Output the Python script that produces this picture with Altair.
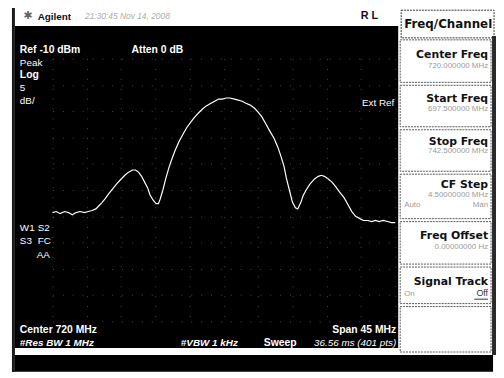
import altair as alt
import pandas as pd

# ---- trace data ----
freq_mhz = [697.5, 698.0, 698.5, 699.1, 699.6, 700.1, 700.6, 701.1, 701.7, 702.2,
            702.7, 703.2, 703.6, 704.0, 704.4, 704.9, 705.4, 705.9, 706.4, 707.0,
            707.5, 708.0, 708.4, 708.8, 709.2, 709.6, 710.0, 710.3, 710.7, 711.1,
            711.4, 711.6, 712.0, 712.4, 712.8, 713.2, 713.6, 714.1, 714.6, 715.1,
            715.7, 716.2, 716.7, 717.2, 717.7, 718.3, 718.8, 719.3, 719.8, 720.3,
            720.8, 721.4, 721.9, 722.4, 722.9, 723.4, 724.0, 724.5, 725.0, 725.5,
            726.0, 726.6, 727.1, 727.5, 727.9, 728.2, 728.6, 729.0, 729.4, 729.7,
            730.1, 730.4, 730.8, 731.3, 731.9, 732.4, 732.8, 733.2, 733.7, 734.2,
            734.7, 735.2, 735.8, 736.3, 736.8, 737.3, 737.8, 738.3, 738.9, 739.4,
            739.9, 740.4, 740.9, 741.5, 742.0, 742.5]
level_dbm = [-39.3, -39.1, -39.5, -39.1, -39.3, -39.7, -39.3, -39.1, -39.3, -39.1,
             -38.9, -38.6, -38.0, -37.4, -36.7, -35.7, -34.8, -33.9, -33.1, -32.2,
             -31.6, -31.2, -31.2, -31.6, -32.4, -33.5, -34.6, -35.9, -36.9, -37.6,
             -37.6, -36.9, -35.0, -32.7, -30.7, -29.0, -27.5, -25.8, -24.5, -23.2,
             -22.0, -21.1, -20.3, -19.6, -19.0, -18.5, -18.1, -17.7, -17.7, -17.5,
             -17.5, -17.7, -17.9, -18.1, -18.5, -18.8, -19.4, -20.2, -21.1, -22.4,
             -23.7, -25.2, -26.9, -28.6, -30.5, -32.7, -35.0, -37.3, -38.4, -38.6,
             -37.4, -36.1, -35.0, -33.9, -32.9, -32.4, -32.2, -32.4, -32.9, -33.5,
             -34.4, -35.4, -36.5, -37.8, -39.1, -40.0, -40.4, -40.8, -40.8, -41.0,
             -40.8, -41.0, -40.8, -41.0, -41.2, -41.2]

x_grid = [697.5, 702.0, 706.5, 711.0, 715.5, 720.0, 724.5, 729.0, 733.5, 738.0, 742.5]
y_grid = [-60, -55, -50, -45, -40, -35, -30, -25, -20, -15, -10]

softkey_labels = ["Center Freq", "Start Freq", "Stop Freq", "CF Step", "Freq Offset", "Signal Track"]
softkey_values = ["720.000000 MHz", "697.500000 MHz", "742.500000 MHz", "4.50000000 MHz", "0.00000000 Hz", ""]

# ---- layout helpers (page pixel -> plot-relative pixel) ----
OX, OY = 53, 57


def P(px):
    return px - OX


def Q(py):
    return py - OY


one = pd.DataFrame({"k": [0]})


def box(x1, y1, x2, y2, fill=None, stroke=None, sw=1.0, dash=None):
    kw = {}
    if fill:
        kw["fill"] = fill
    else:
        kw["fillOpacity"] = 0
        kw["fill"] = "white"
    if stroke:
        kw["stroke"] = stroke
        kw["strokeWidth"] = sw
    if dash:
        kw["strokeDash"] = dash
    return alt.Chart(one).mark_rect(**kw).encode(
        x=alt.value(P(x1)), x2=alt.value(P(x2)), y=alt.value(Q(y1)), y2=alt.value(Q(y2)))


def txt(s, px, py, size=10.5, weight="bold", align="left", color="white",
        font="Liberation Sans", style="normal"):
    return alt.Chart(one).mark_text(
        text=s, fontSize=size, fontWeight=weight, align=align, baseline="middle",
        color=color, font=font, fontStyle=style).encode(
        x=alt.value(P(px)), y=alt.value(Q(py)))


layers = []
# frame / screen backgrounds
layers.append(box(12, 0, 15, 380, fill="#1a1a1a"))
layers.append(box(15, 24, 403, 350, fill="black"))
layers.append(box(15, 357, 499, 374, fill="black"))
layers.append(box(406, 8, 500, 36, stroke="#333", sw=1, dash=[2, 1]))
layers.append(box(498, 34, 502, 357, fill="#2a2a2a"))

# softkey boxes
tops = [38, 84, 129, 174, 222, 268, 308]
bots = [81, 126, 171, 219, 265, 305, 354]
for t, b in zip(tops, bots):
    layers.append(box(405, t, 497, b, stroke="#555", sw=1, dash=[2, 1]))

# trace with graticule
x_scale = alt.Scale(domain=[697.5, 742.5], nice=False, zero=False)
y_scale = alt.Scale(domain=[-60, -10], nice=False, zero=False)
grid_axis = dict(grid=True, labels=False, ticks=False, domain=False, title=None,
                 gridColor="#8a8a8a", gridDash=[1, 9], gridWidth=1, gridOpacity=0.55,
                 zindex=1)
line = alt.Chart(pd.DataFrame({"f": freq_mhz, "dbm": level_dbm})).mark_line(
    color="white", strokeWidth=1.2).encode(
    x=alt.X("f:Q", scale=x_scale, axis=alt.Axis(values=x_grid, **grid_axis)),
    y=alt.Y("dbm:Q", scale=y_scale, axis=alt.Axis(values=y_grid, **grid_axis)))
layers.append(line)

# header
layers.append(txt("\u2731", 28, 14, size=11, weight="normal", align="center", color="#666",
                  font="DejaVu Sans"))
layers.append(txt("Agilent", 38, 15, size=10, color="#111"))
layers.append(txt("21:30:45  Nov 14, 2008", 86, 14, size=8.5, weight="normal", color="#aaa",
                  style="italic"))
layers.append(txt("R L", 365, 14, size=11, color="#111"))

# screen annotations
layers.append(txt("Ref -10 dBm", 20, 48))
layers.append(txt("Atten 0 dB", 133, 48))
layers.append(txt("Peak", 20, 61, size=10, weight="normal"))
layers.append(txt("Log", 20, 74))
layers.append(txt("5", 20, 87, size=10, weight="normal"))
layers.append(txt("dB/", 20, 100, size=10, weight="normal"))
layers.append(txt("Ext Ref", 399, 102, size=10, weight="normal", align="right"))
layers.append(txt("W1", 20, 228, size=10, weight="normal"))
layers.append(txt("S2", 38, 228, size=10, weight="normal"))
layers.append(txt("S3", 20, 242, size=10, weight="normal"))
layers.append(txt("FC", 38, 242, size=10, weight="normal"))
layers.append(txt("AA", 37, 256, size=10, weight="normal"))
layers.append(txt("Center 720 MHz", 20, 332))
layers.append(txt("#Res BW 1 MHz", 20, 345, size=10, style="italic"))
layers.append(txt("#VBW 1 kHz", 183, 345, size=10, style="italic"))
layers.append(txt("Span 45 MHz", 401, 332, align="right"))
layers.append(txt("Sweep", 267, 345))
layers.append(txt("36.56 ms (401 pts)", 401, 345, size=10, weight="normal", align="right",
                  style="italic"))

# softkeys
layers.append(txt("Freq/Channel", 409, 22, size=12, color="#111", font="DejaVu Sans"))
label_y = [53, 98, 141, 185, 237, 283]
value_y = [64, 108, 151, 195, 248, 295]
for lab, val, ly, vy in zip(softkey_labels, softkey_values, label_y, value_y):
    layers.append(txt(lab, 494, ly, size=11, color="#111", font="DejaVu Sans", align="right"))
    if val:
        layers.append(txt(val, 494, vy, size=8, weight="normal", color="#9a9a9a", align="right"))
layers.append(txt("Auto", 409, 205, size=8, weight="normal", color="#9a9a9a"))
layers.append(txt("Man", 494, 205, size=8, weight="normal", color="#9a9a9a", align="right"))
layers.append(txt("On", 409, 295, size=8, weight="normal", color="#9a9a9a"))
layers.append(txt("Off", 494, 294, size=9, weight="normal", color="#333", align="right"))
layers.append(box(480, 300, 494, 301, fill="#333"))

chart = alt.layer(*layers).properties(
    width=347, height=266,
    padding={"left": 45, "top": 49, "right": 102, "bottom": 49},
    autosize=alt.AutoSizeParams(type="none"),
    background="white",
).configure_view(stroke=None)

chart.save("out.html", embed_options={"renderer": "svg", "actions": False})
